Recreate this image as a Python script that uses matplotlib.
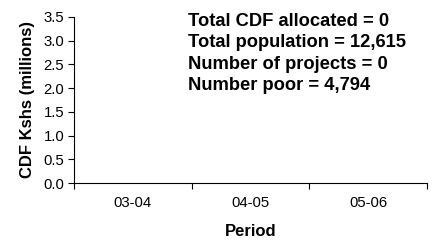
import numpy as np
import matplotlib
matplotlib.use("Agg")
import matplotlib.pyplot as plt

plt.rcParams["font.family"] = ["Liberation Sans", "DejaVu Sans"]

# data
periods = ["03-04", "04-05", "05-06"]
cdf_millions = [0.0, 0.0, 0.0]
info_lines = [
    "Total CDF allocated = 0",
    "Total population = 12,615",
    "Number of projects = 0",
    "Number poor = 4,794",
]

fig = plt.figure(figsize=(4.33, 2.46), dpi=100)
ax = fig.add_axes([0.171, 0.256, 0.815, 0.675])

x = np.arange(len(periods))
ax.bar(x, cdf_millions, width=0.6, color="#9999ff", edgecolor="black", linewidth=0.5)

ax.set_xlim(-0.5, len(periods) - 0.5)
ax.set_ylim(0, 3.5)
yt = np.arange(0, 3.51, 0.5)
ax.set_yticks(yt)
ax.set_yticklabels([f"{v:.1f}" for v in yt], fontsize=10.7)

# boundary ticks (major), labels at centres (minor)
ax.set_xticks(np.arange(-0.5, len(periods), 1.0))
ax.set_xticklabels([])
ax.set_xticks(x, minor=True)
ax.set_xticklabels(periods, minor=True, fontsize=10.7)
ax.tick_params(axis="x", which="minor", length=0, pad=9)
ax.tick_params(axis="both", which="major", direction="out", length=4, width=0.8, color="black")
ax.tick_params(axis="y", pad=3)

for side in ["top", "right"]:
    ax.spines[side].set_visible(False)
for side in ["left", "bottom"]:
    ax.spines[side].set_linewidth(0.8)

ax.set_xlabel("Period", fontsize=12, fontweight="bold")
ax.set_ylabel("CDF Kshs (millions)", fontsize=12, fontweight="bold")
ax.xaxis.set_label_coords(0.5, -0.244)
ax.yaxis.set_label_coords(-0.112, 0.5)

for i, line in enumerate(info_lines):
    ax.text(0.469, 3.31 - i * 0.45, line, fontsize=13.2, fontweight="bold",
            ha="left", va="baseline")

fig.savefig("out.png", dpi=100)
